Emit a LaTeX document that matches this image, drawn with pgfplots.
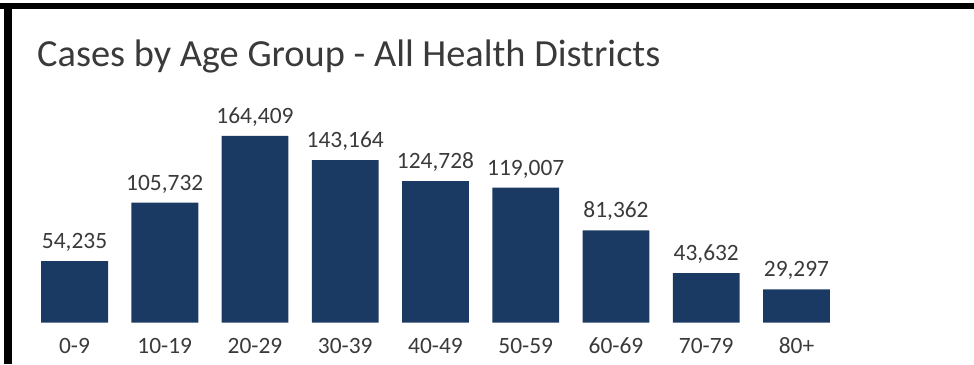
\documentclass[border=0pt]{standalone}
\usepackage{pgfplots}
\pgfplotsset{compat=1.18}
\usepackage{fontspec}
\setmainfont{Carlito}
\definecolor{barblue}{HTML}{1B3A63}
\definecolor{txt}{HTML}{3A3A3A}
\begin{document}
\begin{tikzpicture}[x=1bp,y=1bp]
\path[use as bounding box] (0,0) rectangle (974,364);
\fill[black] (0,355) rectangle (974,361);
\fill[black] (4,0) rectangle (12,361);
\node[anchor=base west,inner sep=0pt,font=\fontsize{38.5}{42}\selectfont,text=txt] at (37,298) {Cases by Age Group - All Health Districts};
\begin{axis}[
  at={(29.4bp,41.3bp)}, anchor=south west,
  scale only axis, width=812.2bp, height=227.2bp,
  xmin=-0.5, xmax=8.5, ymin=0, ymax=200000,
  axis line style={draw=none}, tick style={draw=none},
  ytick=\empty,
  xtick=data,
  xticklabels={0-9,10-19,20-29,30-39,40-49,50-59,60-69,70-79,80+},
  xticklabel style={font=\fontsize{23.5}{26}\selectfont,text=txt,inner sep=0pt,anchor=north,yshift=-15bp},
  clip=false,
  /pgf/number format/assume math mode=true,
  nodes near coords={\pgfmathprintnumber[fixed,precision=0,1000 sep={,}]{\pgfplotspointmeta}},
  nodes near coords style={font=\fontsize{23.5}{26}\selectfont,text=txt,anchor=base,inner sep=0pt,yshift=12.5bp},
  point meta=explicit,
]
\addplot[ybar, bar width=0.742, fill=barblue, draw=none] table[x=x,y=y,meta=y] {
x y
0 54235
1 105732
2 164409
3 143164
4 124728
5 119007
6 81362
7 43632
8 29297
};
\end{axis}
\end{tikzpicture}
\end{document}
